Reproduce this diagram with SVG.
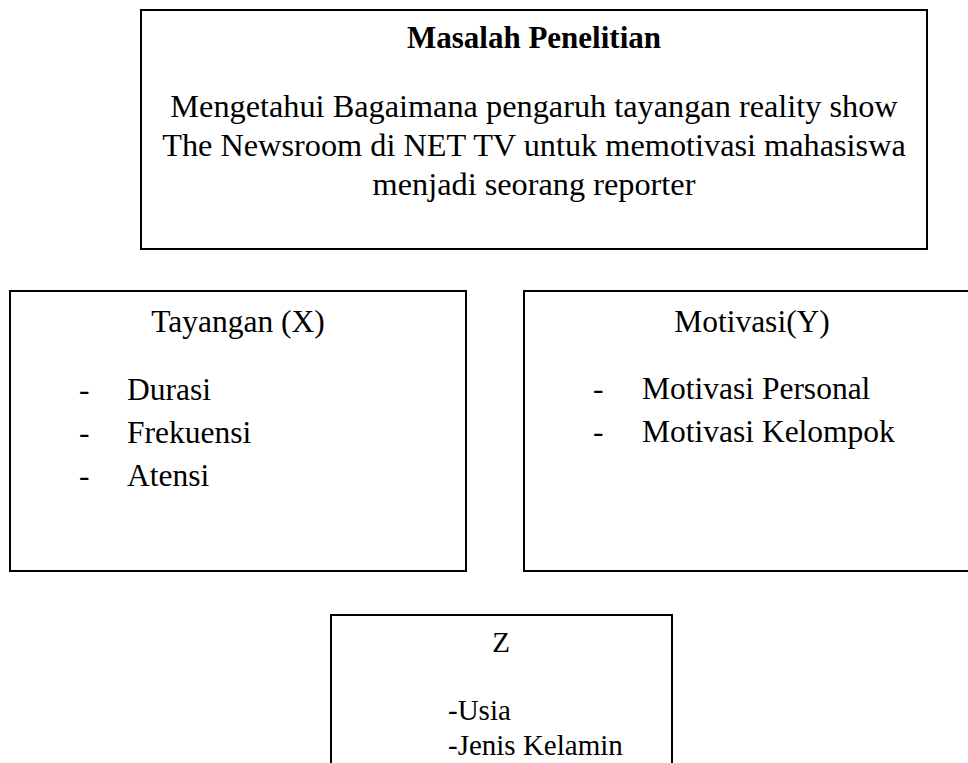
<svg xmlns="http://www.w3.org/2000/svg" width="968" height="763" viewBox="0 0 968 763">
<style>
.box{fill:#fff;stroke:#000;stroke-width:2}
.t{font-family:"Liberation Serif","Times New Roman",serif;font-size:31.5px;fill:#000}
.b{font-weight:bold;font-size:31px}
.m{text-anchor:middle}
.l{font-size:32.3px}
.s{font-size:29px}
</style>
<rect x="0" y="0" width="968" height="763" fill="#fff"/>
<g id="masalah">
<rect class="box" x="141" y="10" width="786" height="239"/>
<text class="t b m" x="534" y="48">Masalah Penelitian</text>
<text class="t l m" x="534" y="117">Mengetahui Bagaimana pengaruh tayangan reality show</text>
<text class="t l m" x="534" y="156">The Newsroom di NET TV untuk memotivasi mahasiswa</text>
<text class="t l m" x="534" y="195">menjadi seorang reporter</text>
</g>
<g id="tayangan">
<rect class="box" x="10" y="291" width="456" height="280"/>
<text class="t m" x="238" y="332">Tayangan (X)</text>
<text class="t" x="79" y="400">-</text><text class="t" x="127" y="400">Durasi</text>
<text class="t" x="79" y="443">-</text><text class="t" x="127" y="443">Frekuensi</text>
<text class="t" x="79" y="486">-</text><text class="t" x="127" y="486">Atensi</text>
</g>
<g id="motivasi">
<rect class="box" x="524" y="291" width="460" height="280"/>
<text class="t m" x="752" y="332">Motivasi(Y)</text>
<text class="t" x="593" y="399">-</text><text class="t" x="642" y="399">Motivasi Personal</text>
<text class="t" x="593" y="442">-</text><text class="t" x="642" y="442">Motivasi Kelompok</text>
</g>
<g id="z">
<rect class="box" x="331" y="615" width="341" height="200"/>
<text class="t s m" x="501" y="652">Z</text>
<text class="t s" x="448" y="720">-Usia</text>
<text class="t s" x="448" y="755">-Jenis Kelamin</text>
</g>
<g id="connectors"></g>
</svg>
